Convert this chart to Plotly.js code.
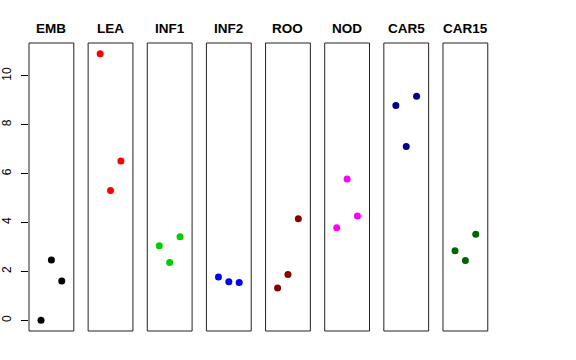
<!DOCTYPE html>
<html><head><meta charset="utf-8">
<script src="https://cdn.plot.ly/plotly-3.0.1.min.js"></script>
<style>body{margin:0;background:#fff}#plot{width:576px;height:360px}</style>
</head><body><div id="plot"></div>
<script>
const categories = ["EMB","LEA","INF1","INF2","ROO","NOD","CAR5","CAR15"];
const colors = ["#000000","#FF0000","#00CD00","#0000FF","#8B0000","#FF00FF","#00008B","#006400"];
const positions = [1,2,3];
const EMB = [0.00, 2.47, 1.61];
const LEA = [10.91, 5.31, 6.52];
const INF1 = [3.05, 2.37, 3.42];
const INF2 = [1.77, 1.58, 1.55];
const ROO = [1.32, 1.88, 4.16];
const NOD = [3.79, 5.78, 4.27];
const CAR5 = [8.79, 7.11, 9.17];
const CAR15 = [2.85, 2.45, 3.52];
const series = [EMB, LEA, INF1, INF2, ROO, NOD, CAR5, CAR15];
const yTicks = [0,2,4,6,8,10];

const W = 576, H = 360, L = 29, R = 88, T = 43, B = 29;
const pw = W - L - R;
const step = 59.14, boxW = 44.8;

const all = series.flat();
const ymin = Math.min(...all), ymax = Math.max(...all);
const pad = (ymax - ymin) * 0.04;

const traces = [];
const layout = {
  width: W, height: H,
  margin: {l: L, r: R, t: T, b: B},
  paper_bgcolor: '#fff', plot_bgcolor: '#fff',
  showlegend: false,
  font: {family: 'Liberation Sans, Arial, sans-serif', color: '#000'},
  shapes: [], annotations: [],
  yaxis: {
    range: [ymin - pad, ymax + pad], anchor: 'x',
    tickvals: yTicks, ticktext: yTicks.map(String),
    ticks: 'outside', ticklen: 7, tickcolor: '#000', tickwidth: 1,
    tickangle: -90, tickfont: {size: 12, color: '#000'},
    ticklabelstandoff: 5,
    showgrid: false, zeroline: false, showline: false
  }
};
categories.forEach((c, i) => {
  const ax = i === 0 ? 'x' : 'x' + (i + 1);
  const key = i === 0 ? 'xaxis' : 'xaxis' + (i + 1);
  const x0 = (step * i) / pw, x1 = (step * i + boxW) / pw;
  layout[key] = {
    domain: [x0, x1], range: [-0.16, 4.16], anchor: 'y',
    showticklabels: false, ticks: '', showgrid: false, zeroline: false, showline: false
  };
  traces.push({
    type: 'scatter', mode: 'markers', x: positions, y: series[i],
    xaxis: ax, yaxis: 'y',
    marker: {color: colors[i], size: 7}, hoverinfo: 'none'
  });
  layout.shapes.push({
    type: 'rect', xref: ax + ' domain', yref: 'paper', x0: 0, x1: 1, y0: 0, y1: 1,
    line: {color: '#222', width: 1}, fillcolor: 'rgba(0,0,0,0)'
  });
  layout.annotations.push({
    text: '<b>' + c + '</b>', xref: 'paper', yref: 'paper',
    x: (x0 + x1) / 2, y: 1 + 14 / (H - T - B), xanchor: 'center', yanchor: 'middle',
    showarrow: false, font: {size: 13.5, color: '#000'}
  });
});
Plotly.newPlot('plot', traces, layout, {staticPlot: true});
</script></body></html>
